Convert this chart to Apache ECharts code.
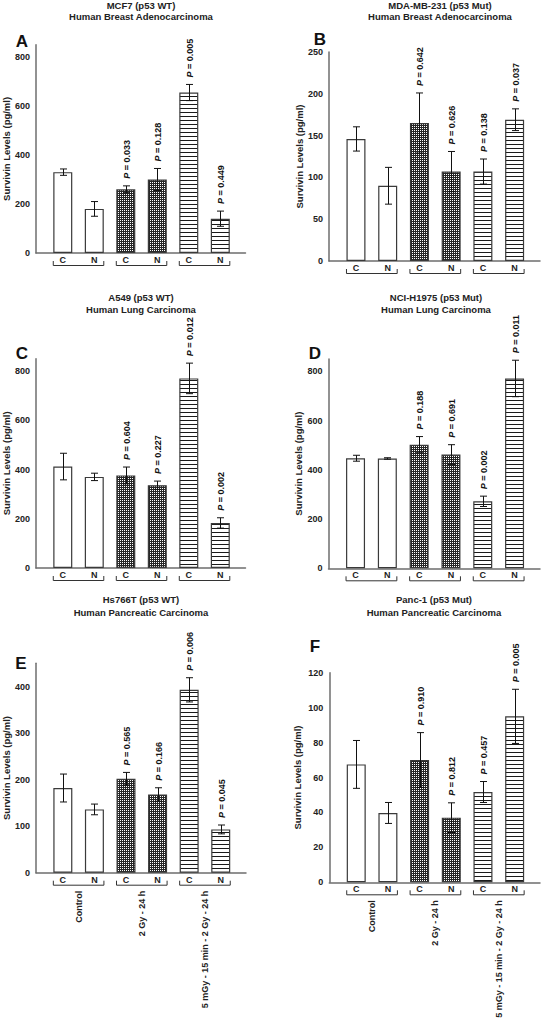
<!DOCTYPE html>
<html><head><meta charset="utf-8">
<script src="https://cdn.jsdelivr.net/npm/echarts@6/dist/echarts.min.js"></script>
<style>html,body{margin:0;padding:0;background:#fff}#c{width:541px;height:1020px}</style>
</head><body><div id="c"></div>
<script>
// ---------- data ----------
const titleLine1 = ['MCF7 (p53 WT)', 'MDA-MB-231 (p53 Mut)', 'A549 (p53 WT)', 'NCI-H1975 (p53 Mut)', 'Hs766T (p53 WT)', 'Panc-1 (p53 Mut)'];
const titleLine2 = ['Human Breast Adenocarcinoma', 'Human Breast Adenocarcinoma', 'Human Lung Carcinoma', 'Human Lung Carcinoma', 'Human Pancreatic Carcinoma', 'Human Pancreatic Carcinoma'];
const panelLetters = ['A', 'B', 'C', 'D', 'E', 'F'];
const barLabels = ['C', 'N', 'C', 'N', 'C', 'N'];
const treatmentGroups = ['Control', '2 Gy - 24 h', '5 mGy - 15 min - 2 Gy - 24 h'];
const groupPairs = [[0, 1], [2, 3], [4, 5]];
const yAxisName = 'Survivin Levels (pg/ml)';
const yMax = [850, 250, 850, 850, 450, 120];
const yInterval = [200, 50, 200, 200, 100, 20];

const meanA = [330, 180, 260, 300, 655, 140];
const errA = [13, 30, 14, 45, 33, 31];
const pA = ['', '', '0.033', '0.128', '0.005', '0.449'];

const meanB = [146, 90, 165, 107, 107, 169];
const errB = [14.5, 22, 36, 24, 15, 13];
const pB = ['', '', '0.642', '0.626', '0.138', '0.037'];

const meanC = [412, 370, 376, 336, 770, 183];
const errC = [54, 15, 34, 17, 62, 21];
const pC = ['', '', '0.604', '0.227', '0.012', '0.002'];

const meanD = [447, 446, 502, 462, 272, 771];
const errD = [12, 3, 33, 40, 21, 74];
const pD = ['', '', '0.188', '0.691', '0.002', '0.011'];

const meanE = [182, 136, 202, 168, 393, 93];
const errE = [30, 11.5, 13.5, 14.5, 26, 9.5];
const pE = ['', '', '0.565', '0.166', '0.006', '0.045'];

const meanF = [67.5, 39.7, 70, 37, 51.7, 95];
const errF = [13.7, 6, 15.7, 8.5, 6, 15.5];
const pF = ['', '', '0.910', '0.812', '0.457', '0.005'];

const means = [meanA, meanB, meanC, meanD, meanE, meanF];
const errs = [errA, errB, errC, errD, errE, errF];
const pvals = [pA, pB, pC, pD, pE, pF];

// ---------- layout ----------
const FONT = '"Liberation Sans", Arial, sans-serif';
const grids = [
  {left: 35, top: 44.75, width: 210.5, height: 208.25},
  {left: 329, top: 52, width: 211, height: 209},
  {left: 35, top: 358.7, width: 210.5, height: 209.3},
  {left: 328.5, top: 359, width: 211.5, height: 209.3},
  {left: 35, top: 663.3, width: 211, height: 209.4},
  {left: 329.3, top: 672.7, width: 210.7, height: 209.6}
];
const titlePos = [[141, 5, 16], [440, 5, 16], [141, 297, 309.5], [436, 297, 309.5], [141, 599.5, 612.5], [434, 599.5, 612.5]];
const letterPos = [[22, 41], [320, 39.5], [22, 353], [315, 353], [21, 663], [315, 646]];
const nameGaps = [25, 25, 25, 25, 25, 27];
const BAR_W = 19;

function makePattern(kind) {
  const c = document.createElement('canvas');
  const n = 4;
  c.width = n; c.height = n;
  const ctx = c.getContext('2d');
  ctx.fillStyle = '#ffffff';
  ctx.fillRect(0, 0, n, n);
  if (kind === 'hatch') {
    ctx.fillStyle = '#262626';
    for (let x = 0; x < n; x++) for (let y = 0; y < n; y++) {
      if (!(x % 2 === 0 && y % 2 === 0)) ctx.fillRect(x, y, 1, 1);
    }
  } else {
    ctx.fillStyle = '#1a1a1a';
    ctx.fillRect(0, 0, n, 1);
  }
  return {image: c, repeat: 'repeat', imageWidth: n, imageHeight: n};
}
const hatch = makePattern('hatch');
const stripes = makePattern('stripes');
const barFills = ['#ffffff', '#ffffff', hatch, hatch, stripes, stripes];

const option = {
  animation: false,
  backgroundColor: '#ffffff',
  grid: grids.map(g => Object.assign({containLabel: false}, g)),
  xAxis: grids.map((g, i) => ({
    type: 'value', gridIndex: i, min: -0.85, max: 5.8,
    axisLine: {show: true, onZero: false, lineStyle: {color: '#6e6e6e', width: 1.5}},
    axisTick: {show: false}, axisLabel: {show: false}, splitLine: {show: false}
  })),
  yAxis: grids.map((g, i) => ({
    type: 'value', gridIndex: i, min: 0, max: yMax[i], interval: yInterval[i],
    name: yAxisName, nameLocation: 'middle', nameGap: nameGaps[i],
    nameTextStyle: {fontFamily: FONT, fontWeight: 'bold', fontSize: 9.5, color: '#222'},
    axisLine: {show: true, onZero: false, lineStyle: {color: '#6e6e6e', width: 1.5}},
    axisTick: {show: false},
    splitLine: {show: false},
    axisLabel: {
      margin: 6, fontFamily: FONT, fontWeight: 'bold', fontSize: 9, color: '#222',
      formatter: v => (Math.abs(v / yInterval[i] - Math.round(v / yInterval[i])) < 1e-6 ? String(v) : '')
    }
  })),
  graphic: [],
  series: []
};

for (let i = 0; i < 6; i++) {
  // titles & letters
  option.graphic.push(
    {type: 'text', x: titlePos[i][0], y: titlePos[i][1], style: {text: titleLine1[i], align: 'center', verticalAlign: 'middle', font: 'bold 9.5px ' + FONT, fill: '#222'}},
    {type: 'text', x: titlePos[i][0], y: titlePos[i][2], style: {text: titleLine2[i], align: 'center', verticalAlign: 'middle', font: 'bold 9.5px ' + FONT, fill: '#222'}},
    {type: 'text', x: letterPos[i][0], y: letterPos[i][1], style: {text: panelLetters[i], align: 'center', verticalAlign: 'middle', font: 'bold 17px ' + FONT, fill: '#111'}}
  );
  // bars
  option.series.push({
    type: 'bar', xAxisIndex: i, yAxisIndex: i, barWidth: BAR_W,
    data: means[i].map((v, k) => ({value: [k, v], itemStyle: {color: barFills[k], borderColor: '#3a3a3a', borderWidth: 1.2}})),
    z: 2
  });
  // error bars + P labels
  const pv = pvals[i];
  option.series.push({
    type: 'custom', xAxisIndex: i, yAxisIndex: i, clip: false, z: 5,
    data: means[i].map((v, k) => [k, v, errs[i][k]]),
    renderItem: function (params, api) {
      const x = api.value(0), m = api.value(1), e = api.value(2);
      const top = api.coord([x, m + e]), bot = api.coord([x, m - e]);
      const cx = Math.round(top[0]) + 0.5, cap = 3.5;
      const ls = {stroke: '#111', lineWidth: 1};
      const ch = [
        {type: 'line', shape: {x1: cx, y1: top[1], x2: cx, y2: bot[1]}, style: ls},
        {type: 'line', shape: {x1: cx - cap, y1: top[1], x2: cx + cap, y2: top[1]}, style: ls},
        {type: 'line', shape: {x1: cx - cap, y1: bot[1], x2: cx + cap, y2: bot[1]}, style: ls}
      ];
      const p = pv[params.dataIndex];
      if (p) {
        ch.push({
          type: 'text', x: cx, y: top[1] - 7, rotation: Math.PI / 2,
          style: {
            text: '{i|P} = ' + p,
            rich: {i: {fontStyle: 'italic', fontWeight: 'bold', fontSize: 9, fontFamily: FONT, fill: '#111'}},
            align: 'left', verticalAlign: 'middle',
            fontSize: 9, fontWeight: 'bold', fontFamily: FONT, fill: '#111'
          }
        });
      }
      return {type: 'group', children: ch};
    }
  });
  // brackets, C/N labels, group labels
  const showGroups = i >= 4;
  option.series.push({
    type: 'custom', xAxisIndex: i, yAxisIndex: i, clip: false, z: 5,
    data: groupPairs.map(g => [g[0], g[1]]),
    encode: {x: [0, 1]},
    renderItem: function (params, api) {
      const a = api.value(0), b = api.value(1);
      const p0 = api.coord([a, 0]), p1 = api.coord([b, 0]);
      const y0 = p0[1];
      const hw = BAR_W / 2;
      const ch = [
        {type: 'polyline', shape: {points: [[p0[0] - hw, y0 + 8], [p0[0] - hw, y0 + 12.5], [p1[0] + hw, y0 + 12.5], [p1[0] + hw, y0 + 8]]},
          style: {stroke: '#333', lineWidth: 1, fill: null}},
        {type: 'text', x: p0[0], y: y0 + 7, style: {text: barLabels[a], align: 'center', verticalAlign: 'middle', font: 'bold 9px ' + FONT, fill: '#222'}},
        {type: 'text', x: p1[0], y: y0 + 7, style: {text: barLabels[b], align: 'center', verticalAlign: 'middle', font: 'bold 9px ' + FONT, fill: '#222'}}
      ];
      if (showGroups) {
        ch.push({type: 'text', x: (p0[0] + p1[0]) / 2, y: y0 + 18, rotation: Math.PI / 2,
          style: {text: treatmentGroups[params.dataIndex], align: 'right', verticalAlign: 'middle', font: 'bold 9px ' + FONT, fill: '#222'}});
      }
      return {type: 'group', children: ch};
    }
  });
}

const chart = echarts.init(document.getElementById('c'), null, {renderer: 'svg', width: 541, height: 1020});
chart.setOption(option);
</script>
</body></html>
